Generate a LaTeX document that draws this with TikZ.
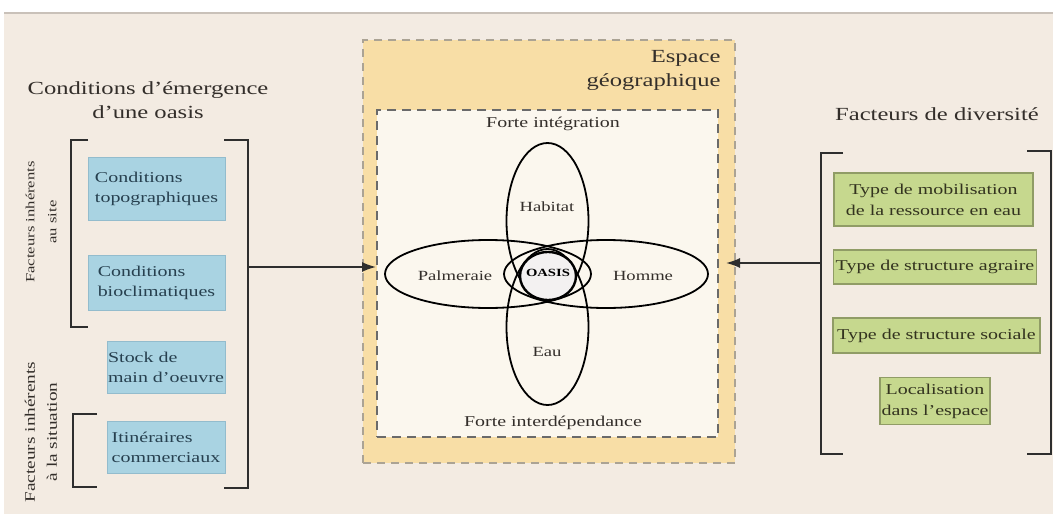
\documentclass[tikz,border=0pt]{standalone}
\usepackage{fontspec}
\setmainfont[FakeStretch=1.33]{Liberation Serif}
\usetikzlibrary{shapes.geometric,arrows.meta}
\definecolor{bg}{HTML}{F3EBE2}
\definecolor{topline}{HTML}{C9C1B9}
\definecolor{bluefill}{HTML}{A9D3E2}
\definecolor{blueedge}{HTML}{93BCCD}
\definecolor{bluetext}{HTML}{27404F}
\definecolor{greenfill}{HTML}{C6D88E}
\definecolor{greenedge}{HTML}{909C66}
\definecolor{greentext}{HTML}{33331F}
\definecolor{orangefill}{HTML}{F8DEA6}
\definecolor{orangeedge}{HTML}{ABA394}
\definecolor{innerfill}{HTML}{FBF7EE}
\definecolor{inneredge}{HTML}{6A6A6A}
\definecolor{titletext}{HTML}{332E2A}
\definecolor{bracketcol}{HTML}{2E2E2E}
\definecolor{oasisfill}{HTML}{F3F1F1}
\tikzset{
  bluebox/.style={rectangle, fill=bluefill, draw=blueedge, line width=1pt, text=bluetext,
    align=left, inner sep=0pt, font=\fontsize{15}{20}\selectfont},
  greenbox/.style={rectangle, fill=greenfill, draw=greenedge, line width=1.2pt, text=greentext,
    align=center, inner sep=0pt, font=\fontsize{15}{21}\selectfont},
  titlestyle/.style={text=titletext, align=center, font=\fontsize{18.5}{24}\selectfont},
  sidelabel/.style={text=titletext, align=center, rotate=90},
  bracketline/.style={draw=bracketcol, line width=1.8pt},
  petal/.style={ellipse, draw=black, line width=1.8pt, inner sep=0pt},
  petaltext/.style={text=titletext, font=\fontsize{14}{16}\selectfont},
  innertext/.style={text=titletext, font=\fontsize{15}{18}\selectfont},
  flowarrow/.style={draw=bracketcol, line width=1.6pt, -{Latex[length=14pt,width=10pt]}}
}
\begin{document}
\begin{tikzpicture}[x=1pt,y=-1pt]
\useasboundingbox (0,0) rectangle (1053,514);
\fill[white] (0,0) rectangle (1053,514);
\fill[bg] (4,13) rectangle (1053,514);
\draw[topline, line width=1.5pt] (4,13) -- (1053,13);

% ---------- left part ----------
\node[titlestyle] (lefttitle) at (148,100) {Conditions d'émergence\\d'une oasis};

\node[bluebox, minimum width=137pt, minimum height=63pt] (topo) at (156.5,188.5) {Conditions\\topographiques};
\node[bluebox, minimum width=137pt, minimum height=55pt] (bio) at (156.5,282.5) {Conditions\\bioclimatiques};
\node[bluebox, minimum width=118pt, minimum height=52pt] (stock) at (166,367) {Stock de\\main d'oeuvre};
\node[bluebox, minimum width=118pt, minimum height=52pt] (itin) at (166,447) {Itinéraires\\commerciaux};

\node[sidelabel, font=\fontsize{12.5}{22}\selectfont] (sitelabel) at (41,222) {Facteurs inhérents\\au site};
\node[sidelabel, font=\fontsize{14.5}{22}\selectfont] (situlabel) at (41,432) {Facteurs inhérents\\à la situation};

\draw[bracketline] (88,140) -- (71,140) -- (71,327) -- (88,327);
\draw[bracketline] (97,414) -- (73,414) -- (73,487) -- (97,487);
\draw[bracketline] (224,140) -- (248,140) -- (248,488) -- (224,488);
\coordinate (leftout) at (248,267);
\coordinate (leftin) at (376,267);

% ---------- central part ----------
\node[rectangle, fill=orangefill, draw=orangeedge, line width=1.6pt, dash pattern=on 8pt off 6pt,
  minimum width=372pt, minimum height=423pt, inner sep=0pt] (outer) at (549,251.5) {};
\node[rectangle, fill=innerfill, draw=inneredge, line width=2pt, dash pattern=on 9pt off 6pt,
  minimum width=341pt, minimum height=327pt, inner sep=0pt] (inner) at (547.5,273.5) {};
\node[text=titletext, align=right, anchor=east, font=\fontsize{18.5}{24}\selectfont] (espace) at (724,70) {Espace\\géographique};

\node[innertext] (integ) at (553,124) {Forte intégration};
\node[innertext] (interd) at (553,423) {Forte interdépendance};

\node[petal, minimum width=206pt, minimum height=68pt] (palm) at (488,274) {};
\node[petal, minimum width=204pt, minimum height=68pt] (homme) at (606,274) {};
\node[petal, minimum width=82pt, minimum height=156pt] (habitat) at (547.5,221) {};
\node[petal, minimum width=82pt, minimum height=156pt] (eau) at (547.5,327) {};
\node[ellipse, draw=black, line width=2.4pt, fill=oasisfill, minimum width=56pt, minimum height=48pt, inner sep=0pt] (oasis) at (548,276) {};

\node[petaltext] (habitatlab) at (547,207) {Habitat};
\node[petaltext] (palmlab) at (455,276) {Palmeraie};
\node[petaltext] (hommelab) at (643,276) {Homme};
\node[petaltext] (eaulab) at (547,352) {Eau};
\node[text=black, font=\fontsize{11}{12}\selectfont\bfseries] (oasislab) at (548,273) {OASIS};

% ---------- right part ----------
\node[titlestyle] (righttitle) at (937,114) {Facteurs de diversité};
\node[greenbox, minimum width=199pt, minimum height=53pt] (mob) at (933.5,199.5) {Type de mobilisation\\de la ressource en eau};
\node[greenbox, minimum width=203pt, minimum height=34pt] (agr) at (935,267) {Type de structure agraire};
\node[greenbox, minimum width=207pt, minimum height=35pt] (soc) at (936.5,335.5) {Type de structure sociale};
\node[greenbox, minimum width=110pt, minimum height=47pt] (loc) at (935,401) {Localisation\\dans l'espace};

\draw[bracketline] (843,153) -- (821,153) -- (821,454) -- (843,454);
\draw[bracketline] (1027,151) -- (1051,151) -- (1051,454) -- (1027,454);
\coordinate (rightout) at (821,263);
\coordinate (rightin) at (726,263);

% ---------- arrows ----------
\draw[flowarrow] (leftout) -- (leftin);
\draw[flowarrow] (rightout) -- (rightin);
\end{tikzpicture}
\end{document}
